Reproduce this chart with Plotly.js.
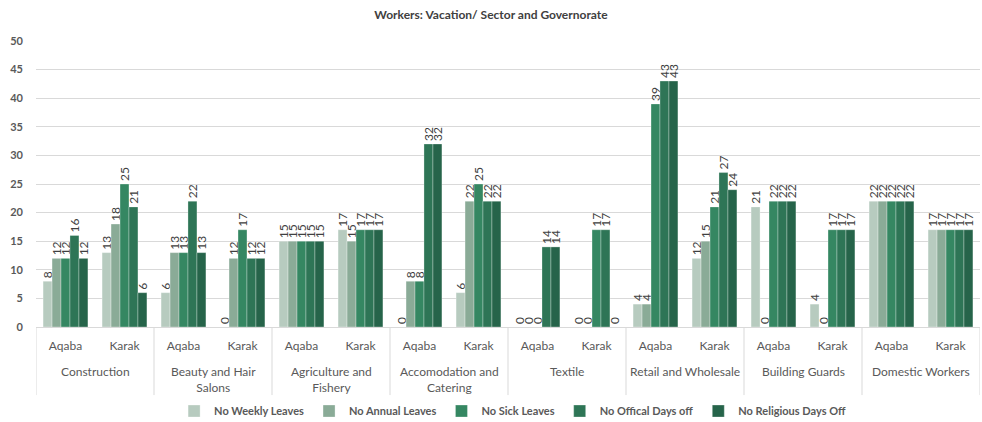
<!DOCTYPE html>
<html>
<head>
<meta charset="utf-8">
<script src="https://cdn.plot.ly/plotly-3.0.1.min.js"></script>
<style>
  html, body { margin: 0; padding: 0; background: #fff; }
  #chart { width: 982px; height: 422px; }
</style>
</head>
<body>
<div id="chart"></div>
<script>
const sectors = [
  'Construction', 'Beauty and Hair<br>Salons', 'Agriculture and<br>Fishery', 'Accomodation and<br>Catering',
  'Textile', 'Retail and Wholesale', 'Building Guards', 'Domestic Workers'
]
const governorates = [
  'Aqaba', 'Karak', 'Aqaba', 'Karak', 'Aqaba', 'Karak', 'Aqaba', 'Karak',
  'Aqaba', 'Karak', 'Aqaba', 'Karak', 'Aqaba', 'Karak', 'Aqaba', 'Karak'
]

const seriesNames = ['No Weekly Leaves', 'No Annual Leaves', 'No Sick Leaves', 'No Offical Days off', 'No Religious Days Off']
const seriesColors = ['#b7cbbf', '#8aab97', '#358762', '#2e7556', '#26644a']

const weekly    = [8, 13, 6, 0, 15, 17, 0, 6, 0, 0, 4, 12, 21, 4, 22, 17]
const annual    = [12, 18, 13, 12, 15, 15, 8, 22, 0, 0, 4, 15, 0, 0, 22, 17]
const sick      = [12, 25, 13, 17, 15, 17, 8, 25, 0, 17, 39, 21, 22, 17, 22, 17]
const official  = [16, 21, 22, 12, 15, 17, 32, 22, 14, 17, 43, 27, 22, 17, 22, 17]
const religious = [12, 6, 13, 12, 15, 17, 32, 22, 14, 0, 43, 24, 22, 17, 22, 17]

const allValues = [weekly, annual, sick, official, religious]

const font = 'Lato, "Open Sans", sans-serif'
const grey = '#d9d9d9'

// one slot per sector/governorate pair
const xPos = governorates.map((g, i) => i)

let traces = []
allValues.forEach((vals, i) => {
  traces.push({
    type: 'bar',
    name: seriesNames[i],
    x: xPos,
    y: vals,
    marker: { color: seriesColors[i], line: { color: 'rgba(255,255,255,0.5)', width: 0.6 } },
    text: vals.map(String),
    textposition: 'outside',
    textangle: -90,
    constraintext: 'none',
    cliponaxis: false,
    textfont: { family: font, size: 12, color: '#404040' },
    hoverinfo: 'y+name',
  })
})

// sector names under the governorate ticks, with dividers between sectors
let annotations = sectors.map((s, k) => ({
  text: s,
  x: 2 * k + 0.5, xref: 'x',
  y: -0.122, yref: 'paper',
  yanchor: 'top', xanchor: 'center',
  showarrow: false,
  align: 'center',
  font: { family: font, size: 12, color: '#595959' },
}))

let shapes = []
for (let k = 0; k <= sectors.length; k++) {
  shapes.push({
    type: 'line',
    xref: 'x', yref: 'paper',
    x0: 2 * k - 0.5, x1: 2 * k - 0.5,
    y0: 0, y1: -0.238,
    line: { color: grey, width: 1 },
  })
}

const layout = {
  width: 982,
  height: 422,
  paper_bgcolor: '#fff',
  plot_bgcolor: '#fff',
  font: { family: font, color: '#595959' },
  title: {
    text: '<b>Workers: Vacation/ Sector and Governorate</b>',
    font: { family: font, size: 12, color: '#404040' },
    x: 0.5, xanchor: 'center',
    y: 0.965, yanchor: 'middle',
  },
  margin: { l: 36, r: 2, t: 41, b: 95 },
  barmode: 'group',
  bargap: 0.24,
  bargroupgap: 0,
  showlegend: true,
  legend: {
    orientation: 'h',
    x: 0.522, xanchor: 'center',
    xref: 'container', yref: 'container',
    y: 0.026, yanchor: 'middle',
    font: { family: font, size: 11, color: '#595959', weight: 'bold' },
    itemwidth: 30,
    traceorder: 'normal',
  },
  annotations,
  shapes,
  yaxis: {
    range: [0, 50],
    dtick: 5,
    showgrid: true,
    gridcolor: grey,
    gridwidth: 1,
    zeroline: false,
    showline: false,
    ticks: '',
    tickfont: { family: font, size: 11, color: '#595959', weight: 'bold' },
    ticklabelstandoff: 12,
    automargin: false,
  },
  xaxis: {
    range: [-0.5, 15.5],
    tickvals: xPos,
    ticktext: governorates,
    showgrid: false,
    zeroline: false,
    showline: true,
    linecolor: grey,
    linewidth: 1,
    ticks: '',
    ticklabelstandoff: 8,
    tickfont: { family: font, size: 12, color: '#595959' },
    automargin: false,
  },
}

Plotly.newPlot('chart', traces, layout, { displayModeBar: false, staticPlot: true })
</script>
</body>
</html>
